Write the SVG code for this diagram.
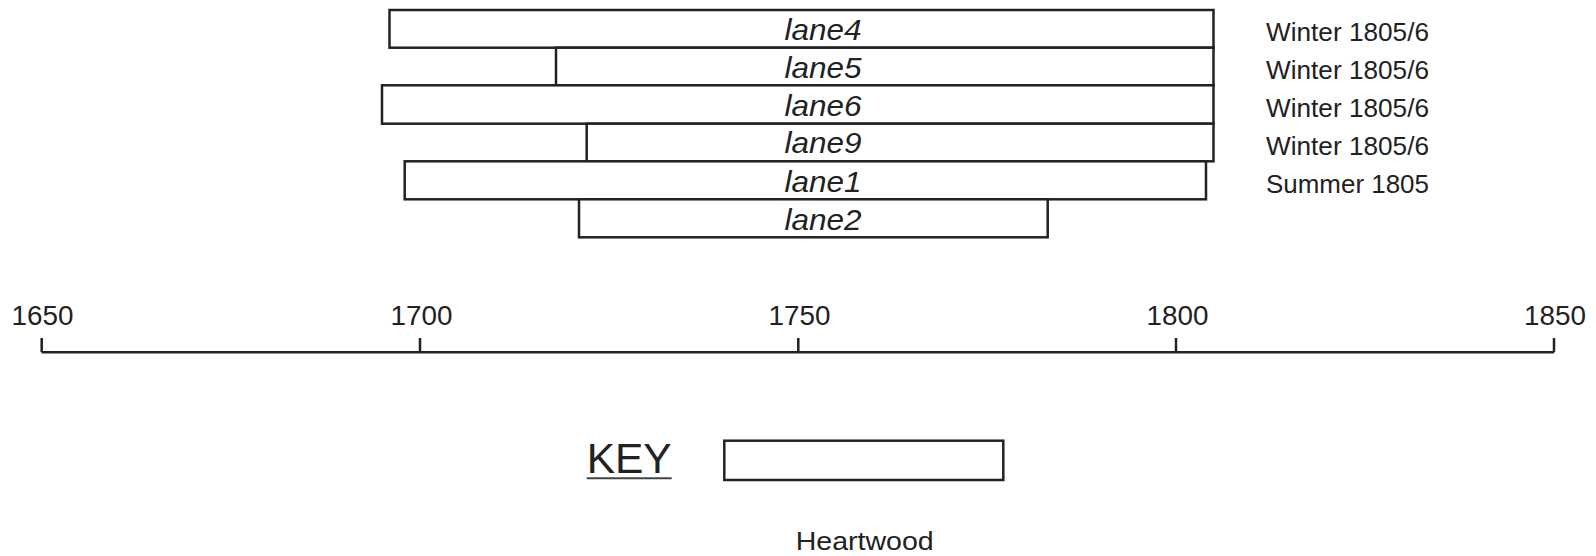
<svg xmlns="http://www.w3.org/2000/svg" width="1596" height="556" viewBox="0 0 1596 556">
<style>
.bar{fill:#fff;stroke:#222;stroke-width:2.5}
.lbl{font-family:"Liberation Sans",Arial,sans-serif;font-style:italic;font-size:29px;fill:#222;text-anchor:middle}
.sea{font-family:"Liberation Sans",Arial,sans-serif;font-size:25.5px;fill:#222}
.yr{font-family:"Liberation Sans",Arial,sans-serif;font-size:28.5px;fill:#222;text-anchor:middle}
.ax{stroke:#222;stroke-width:2.5;fill:none}
</style>
<rect width="1596" height="556" fill="#fff"/>
<g id="lane4"><rect class="bar" x="389.5" y="10" width="824" height="37.7"/><text class="lbl" x="823" y="40" textLength="77" lengthAdjust="spacingAndGlyphs">lane4</text><text class="sea" x="1266" y="40.5" textLength="163" lengthAdjust="spacingAndGlyphs">Winter 1805/6</text></g>
<g id="lane5"><rect class="bar" x="556" y="47.7" width="657.5" height="37.6"/><text class="lbl" x="823" y="77.7" textLength="77" lengthAdjust="spacingAndGlyphs">lane5</text><text class="sea" x="1266" y="79" textLength="163" lengthAdjust="spacingAndGlyphs">Winter 1805/6</text></g>
<g id="lane6"><rect class="bar" x="382" y="85.3" width="831.5" height="38.4"/><text class="lbl" x="823" y="116" textLength="77" lengthAdjust="spacingAndGlyphs">lane6</text><text class="sea" x="1266" y="116.7" textLength="163" lengthAdjust="spacingAndGlyphs">Winter 1805/6</text></g>
<g id="lane9"><rect class="bar" x="586.7" y="123.7" width="626.8" height="37.6"/><text class="lbl" x="823" y="153.3" textLength="77" lengthAdjust="spacingAndGlyphs">lane9</text><text class="sea" x="1266" y="155" textLength="163" lengthAdjust="spacingAndGlyphs">Winter 1805/6</text></g>
<g id="lane1"><rect class="bar" x="404.7" y="161.3" width="801.3" height="38"/><text class="lbl" x="823" y="191.7" textLength="77" lengthAdjust="spacingAndGlyphs">lane1</text><text class="sea" x="1266" y="192.7" textLength="163" lengthAdjust="spacingAndGlyphs">Summer 1805</text></g>
<g id="lane2"><rect class="bar" x="579" y="199.3" width="468.7" height="38"/><text class="lbl" x="823" y="230" textLength="77" lengthAdjust="spacingAndGlyphs">lane2</text></g>
<g id="axis">
<path class="ax" d="M41.7,352.3 H1554 M41.7,338 V352.3 M420,338 V352.3 M798.3,338 V352.3 M1176,338 V352.3 M1554,338 V352.3"/>
<text class="yr" x="42.5" y="325" textLength="62" lengthAdjust="spacingAndGlyphs">1650</text>
<text class="yr" x="421.5" y="325" textLength="62" lengthAdjust="spacingAndGlyphs">1700</text>
<text class="yr" x="799.5" y="325" textLength="62" lengthAdjust="spacingAndGlyphs">1750</text>
<text class="yr" x="1177.5" y="325" textLength="62" lengthAdjust="spacingAndGlyphs">1800</text>
<text class="yr" x="1555" y="325" textLength="62" lengthAdjust="spacingAndGlyphs">1850</text>
</g>
<g id="key">
<text x="586.7" y="473.3" font-family="'Liberation Sans',Arial,sans-serif" font-size="42" fill="#222" textLength="85" lengthAdjust="spacingAndGlyphs">KEY</text>
<line x1="586.7" y1="478.3" x2="671.7" y2="478.3" stroke="#444" stroke-width="2"/>
<rect class="bar" x="724.3" y="440.7" width="279" height="39.3"/>
<text x="795.7" y="550" font-family="'Liberation Sans',Arial,sans-serif" font-size="26" fill="#222" textLength="138" lengthAdjust="spacingAndGlyphs">Heartwood</text>
</g>
<g id="connectors"/>
</svg>
